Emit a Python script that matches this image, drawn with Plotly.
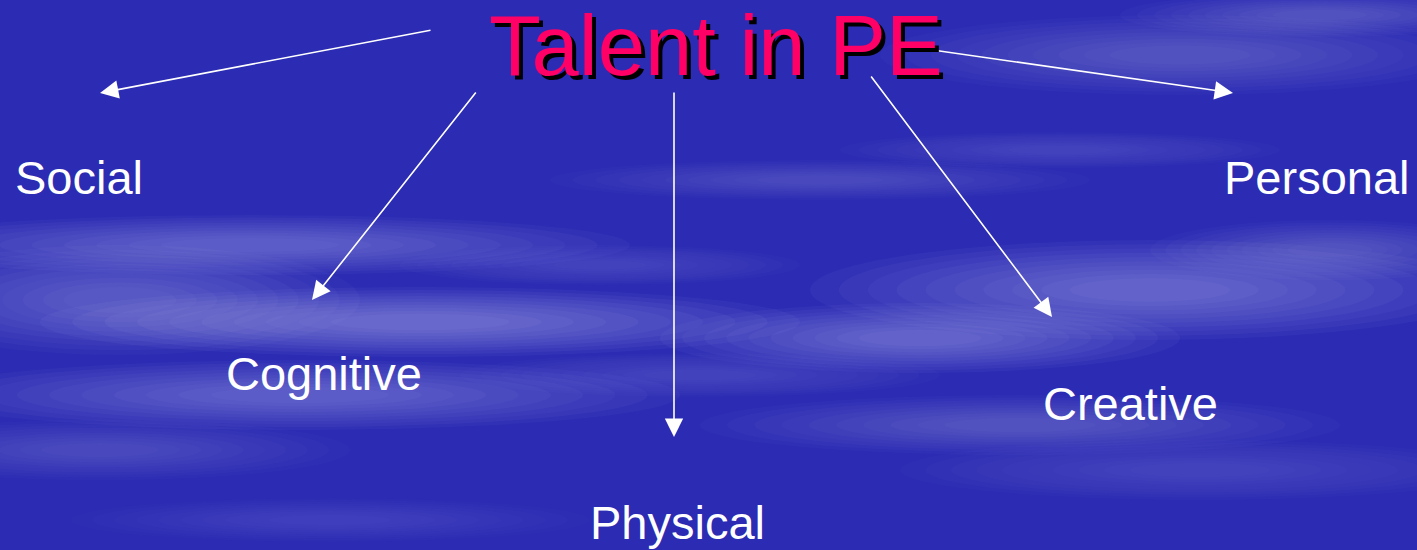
import plotly.graph_objects as go

# ---- data ----
title_text = "Talent in PE"
labels = ["Social", "Cognitive", "Physical", "Creative", "Personal"]
label_x = [79, 324, 677, 1130, 1317]
label_y = [177, 373, 522, 403, 177]
# arrows: tail (from title) -> head (towards label)
arrow_tail_x = [432, 477, 674, 870, 905]
arrow_tail_y = [30, 91, 91, 75, 46]
arrow_head_x = [100, 312, 674, 1052, 1233]
arrow_head_y = [93, 300, 437, 317, 93]

W, H = 1417, 550
fig = go.Figure()

# ---- background cloud streaks (soft layered ellipses) ----
streaks = [
    # cx, cy, rx, ry, alpha
    (250, 245, 380, 30, 0.40),
    (420, 322, 380, 35, 0.48),
    (120, 300, 240, 55, 0.32),
    (300, 395, 380, 35, 0.40),
    (100, 450, 250, 30, 0.22),
    (1150, 290, 340, 50, 0.42),
    (920, 338, 260, 35, 0.45),
    (1330, 250, 180, 30, 0.28),
    (1180, 55, 300, 40, 0.28),
    (1320, 15, 200, 22, 0.28),
    (820, 180, 270, 20, 0.22),
    (1020, 425, 320, 30, 0.26),
    (1200, 470, 300, 30, 0.18),
    (600, 265, 200, 20, 0.18),
    (700, 375, 240, 22, 0.18),
    (1060, 150, 220, 18, 0.18),
    (330, 520, 260, 22, 0.14),
]
N = 10
for cx, cy, rx, ry, a in streaks:
    for k in range(N):
        f = 1 - k * 0.085
        fig.add_shape(type="circle", xref="x", yref="y",
                      x0=cx - rx * f, x1=cx + rx * f, y0=cy - ry * f, y1=cy + ry * f,
                      fillcolor=f"rgba(215,215,255,{a/N:.4f})", line_width=0, layer="below")

# ---- arrows ----
for tx, ty, hx, hy in zip(arrow_tail_x, arrow_tail_y, arrow_head_x, arrow_head_y):
    fig.add_annotation(x=hx, y=hy, ax=tx, ay=ty, xref="x", yref="y", axref="x", ayref="y",
                       text="", showarrow=True, arrowhead=2, arrowsize=2.3, arrowwidth=1.6,
                       arrowcolor="white")

# ---- labels ----
for t, x, y in zip(labels, label_x, label_y):
    fig.add_annotation(x=x, y=y, xref="x", yref="y", text=t, showarrow=False,
                       font=dict(family="Liberation Sans, Arial", size=47, color="white"),
                       xanchor="center", yanchor="middle")

# ---- title with shadow ----
fig.add_annotation(x=720, y=49, xref="x", yref="y", text=title_text, showarrow=False,
                   font=dict(family="Liberation Sans, Arial", size=85, color="black"),
                   xanchor="center", yanchor="middle")
fig.add_annotation(x=716, y=45, xref="x", yref="y", text=title_text, showarrow=False,
                   font=dict(family="Liberation Sans, Arial", size=85, color="#ff0066"),
                   xanchor="center", yanchor="middle")

fig.update_layout(
    width=W, height=H, margin=dict(l=0, r=0, t=0, b=0),
    paper_bgcolor="#2b2bb3", plot_bgcolor="#2b2bb3",
    showlegend=False,
    xaxis=dict(range=[0, W], visible=False, fixedrange=True),
    yaxis=dict(range=[H, 0], visible=False, fixedrange=True),
)
fig.write_html("out.html", config={"displayModeBar": False},
               post_script="document.body.style.margin='0px';document.body.style.overflow='hidden';")
